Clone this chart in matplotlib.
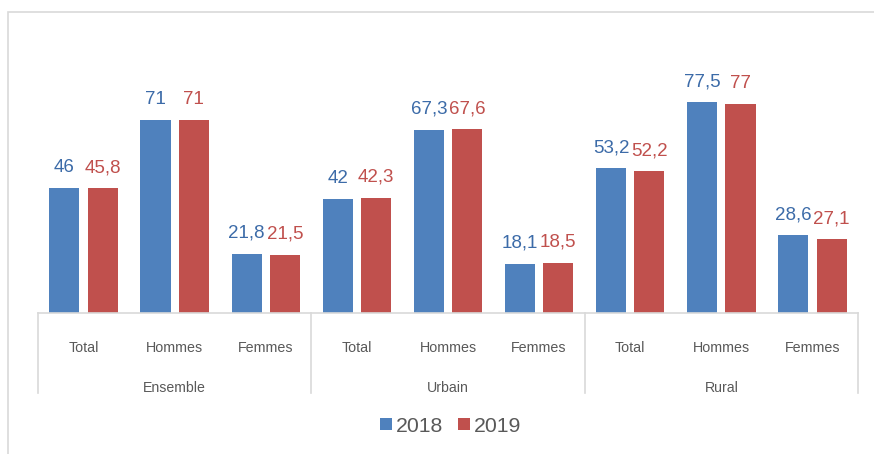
import matplotlib
matplotlib.use("Agg")
import matplotlib.pyplot as plt
from matplotlib.patches import Rectangle, Patch
from matplotlib.lines import Line2D
import matplotlib.transforms as mtransforms

plt.rcParams['font.family'] = ['Liberation Sans', 'DejaVu Sans']

groups = ["Ensemble", "Urbain", "Rural"]
subcats = ["Total", "Hommes", "Femmes"]
series_names = ["2018", "2019"]
values_2018 = [46, 71, 21.8, 42, 67.3, 18.1, 53.2, 77.5, 28.6]
values_2019 = [45.8, 71, 21.5, 42.3, 67.6, 18.5, 52.2, 77, 27.1]

blue = "#4F81BD"
red = "#C0504D"
blue_txt = "#3C6BA8"
red_txt = "#C0504D"
gray_txt = "#595959"
line_gray = "#D9D9D9"

W, H = 874, 454
fig = plt.figure(figsize=(W / 100, H / 100), dpi=100)

# outer chart border
fig.patches.append(Rectangle((8 / W, -0.1), 1.2, 1 - 12 / H + 0.1, transform=fig.transFigure,
                             fill=False, edgecolor=line_gray, linewidth=1.2, zorder=0))

ax = fig.add_axes([38 / W, 1 - 313 / H, (858 - 38) / W, (313 - 41) / H])
ax.set_facecolor("none")

n = len(values_2018)
xs = list(range(n))
off = 0.21
bw = 0.33
ax.bar([x - off for x in xs], values_2018, width=bw, color=blue)
ax.bar([x + off for x in xs], values_2019, width=bw, color=red)

def fmt(v):
    return ("%g" % v).replace(".", ",")

for x, v in zip(xs, values_2018):
    ax.annotate(fmt(v), (x - off, v), xytext=(0, 11.5), textcoords="offset points",
                ha="center", va="baseline", fontsize=13.5, color=blue_txt)
for x, v in zip(xs, values_2019):
    ax.annotate(fmt(v), (x + off, v), xytext=(0, 11.5), textcoords="offset points",
                ha="center", va="baseline", fontsize=13.5, color=red_txt)

ax.set_xlim(-0.5, n - 0.5)
ax.set_ylim(0, 100)
for s in ["top", "right", "left"]:
    ax.spines[s].set_visible(False)
ax.spines["bottom"].set_color(line_gray)
ax.spines["bottom"].set_linewidth(1.2)
ax.set_xticks([])
ax.set_yticks([])

trans = mtransforms.blended_transform_factory(ax.transData, fig.transFigure)
for i in range(n):
    ax.text(i, 1 - 348 / H, subcats[i % 3], transform=trans, ha="center", va="center",
            fontsize=10.3, color=gray_txt)
for g, name in enumerate(groups):
    ax.text(g * 3 + 1, 1 - 388 / H, name, transform=trans, ha="center", va="center",
            fontsize=10.2, color=gray_txt)
for b in range(len(groups) + 1):
    xb = b * 3 - 0.5
    ax.add_line(Line2D([xb, xb], [1 - 313 / H, 1 - 393 / H], transform=trans,
                       color=line_gray, linewidth=1.2, clip_on=False))

handles = [Patch(facecolor=blue, edgecolor="none"), Patch(facecolor=red, edgecolor="none")]
fig.legend(handles, series_names, loc="center", bbox_to_anchor=(451 / W, 1 - 426 / H),
           ncol=2, frameon=False, fontsize=15.3, handlelength=0.55, handleheight=0.55,
           handletextpad=0.2, columnspacing=0.7, labelcolor=gray_txt)

fig.savefig("out.png", dpi=100)
